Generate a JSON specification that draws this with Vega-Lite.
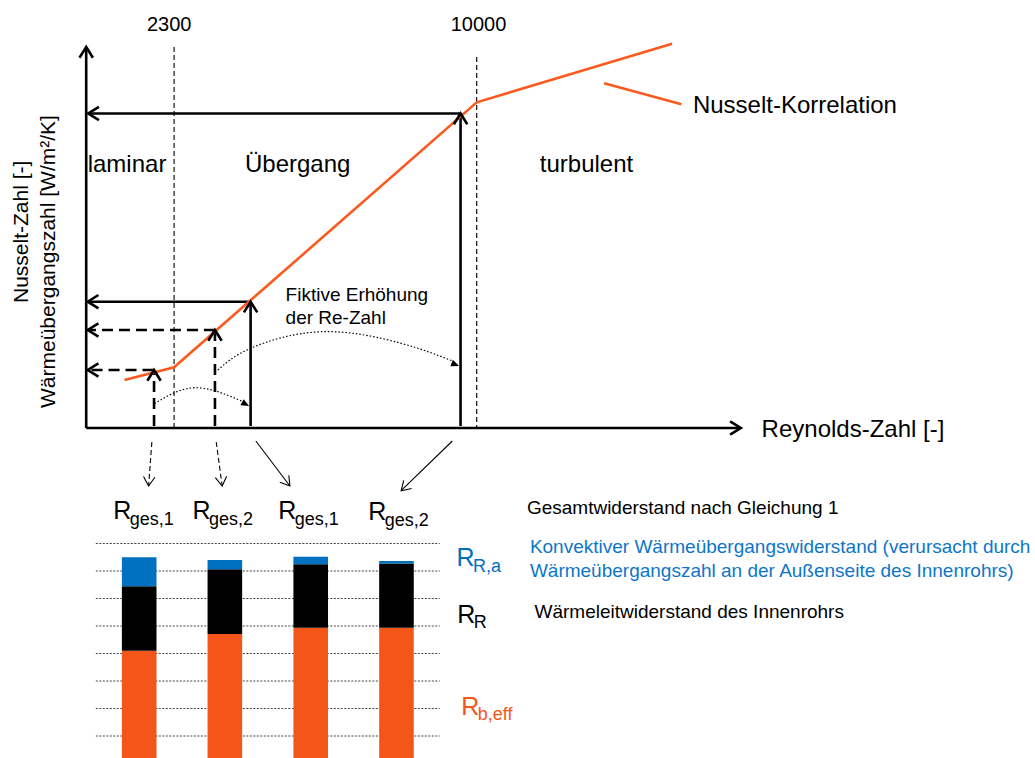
{
  "$schema": "https://vega.github.io/schema/vega-lite/v6.json",
  "width": 1035,
  "height": 758,
  "autosize": {"type": "fit", "contains": "padding"},
  "padding": 0,
  "background": "white",
  "config": {"view": {"stroke": null}, "font": "Liberation Sans"},
  "datasets": {
    "segs": [
      {"k": "axis", "x": 82, "y": 428, "x2": 82, "y2": 49},
      {"k": "axis", "x": 82, "y": 428, "x2": 741, "y2": 428},
      {"k": "solid", "x": 460, "y": 113.5, "x2": 84, "y2": 113.5},
      {"k": "solid", "x": 460, "y": 426, "x2": 460, "y2": 115},
      {"k": "solid", "x": 248, "y": 301.7, "x2": 84, "y2": 301.7},
      {"k": "solid", "x": 248, "y": 426, "x2": 248, "y2": 303},
      {"k": "dash", "x": 212, "y": 330, "x2": 84, "y2": 330},
      {"k": "dash", "x": 212, "y": 426, "x2": 212, "y2": 332},
      {"k": "dash", "x": 150, "y": 370, "x2": 84, "y2": 370},
      {"k": "dash", "x": 150.5, "y": 426, "x2": 150.5, "y2": 372},
      {"k": "guide", "x": 170.7, "y": 47, "x2": 170.7, "y2": 427},
      {"k": "guide", "x": 476.3, "y": 57, "x2": 476.3, "y2": 427},
      {"k": "ptrdash", "x": 148.3, "y": 442, "x2": 145, "y2": 486},
      {"k": "ptrdash", "x": 213.3, "y": 442, "x2": 219.3, "y2": 486},
      {"k": "ptr", "x": 253.3, "y": 441, "x2": 287.7, "y2": 486},
      {"k": "ptr", "x": 451.7, "y": 441, "x2": 400, "y2": 490.7},
      {"k": "leader", "x": 605, "y": 83.3, "x2": 683, "y2": 104.3}
    ],
    "heads": [
      {"k": "thick", "x": 82, "y": 47, "a": 0},
      {"k": "thick", "x": 743, "y": 428, "a": 90},
      {"k": "thick", "x": 84, "y": 113.5, "a": 270},
      {"k": "thick", "x": 460, "y": 113.5, "a": 0},
      {"k": "thick", "x": 83.5, "y": 301.7, "a": 270},
      {"k": "thick", "x": 248, "y": 301.7, "a": 0},
      {"k": "thick", "x": 83.5, "y": 330, "a": 270},
      {"k": "thick", "x": 212, "y": 330, "a": 0},
      {"k": "thick", "x": 83.5, "y": 370, "a": 270},
      {"k": "thick", "x": 150.5, "y": 370, "a": 0},
      {"k": "thin", "x": 145, "y": 486, "a": 183.8},
      {"k": "thin", "x": 219.3, "y": 486, "a": 172.4},
      {"k": "thin", "x": 287.7, "y": 486, "a": 142.1},
      {"k": "thin", "x": 400, "y": 490.7, "a": 226.1},
      {"k": "filled", "x": 246.5, "y": 406, "a": 118},
      {"k": "filled", "x": 458.5, "y": 366, "a": 111.5}
    ],
    "curves": [
      {"c": "c1", "x": 151, "y": 403.5},
      {"c": "c1", "x": 192, "y": 387.7},
      {"c": "c1", "x": 240, "y": 401.5},
      {"c": "c2", "x": 215, "y": 370},
      {"c": "c2", "x": 248, "y": 348.3},
      {"c": "c2", "x": 320, "y": 331.7},
      {"c": "c2", "x": 400, "y": 343.3},
      {"c": "c2", "x": 452, "y": 361}
    ],
    "nusselt": [
      {"x": 120.7, "y": 380},
      {"x": 170.7, "y": 367.3},
      {"x": 476.3, "y": 102.3},
      {"x": 673.6, "y": 43.7}
    ],
    "labels": [
      {"r": "tick", "t": "2300", "x": 143.3, "y": 25},
      {"r": "tick", "t": "10000", "x": 450, "y": 25},
      {"r": "region", "t": "laminar", "x": 83.5, "y": 165},
      {"r": "region", "t": "Übergang", "x": 242.3, "y": 165},
      {"r": "region", "t": "turbulent", "x": 540, "y": 165},
      {"r": "region", "t": "Nusselt-Korrelation", "x": 694.6, "y": 106},
      {"r": "region", "t": "Reynolds-Zahl [-]", "x": 764, "y": 430},
      {"r": "note", "t": "Fiktive Erhöhung", "x": 283.3, "y": 295},
      {"r": "note", "t": "der Re-Zahl", "x": 283.3, "y": 318},
      {"r": "note", "t": "Gesamtwiderstand nach Gleichung 1", "x": 527, "y": 508.3},
      {"r": "blue", "t": "Konvektiver Wärmeübergangswiderstand (verursacht durch", "x": 530, "y": 547.3},
      {"r": "blue", "t": "Wärmeübergangszahl an der Außenseite des Innenrohrs)", "x": 530, "y": 571},
      {"r": "note", "t": "Wärmeleitwiderstand des Innenrohrs", "x": 534.7, "y": 611.7},
      {"r": "ylab", "t": "Nusselt-Zahl [-]", "x": 17, "y": 303},
      {"r": "ylab", "t": "Wärmeübergangszahl [W/m²/K]", "x": 44, "y": 408}
    ],
    "rlabels": [
      {"part": "ges", "main": "R", "sub": "ges,1", "x": 109.3, "y": 519},
      {"part": "ges", "main": "R", "sub": "ges,2", "x": 189.3, "y": 519},
      {"part": "ges", "main": "R", "sub": "ges,1", "x": 276, "y": 519},
      {"part": "ges", "main": "R", "sub": "ges,2", "x": 366.7, "y": 520},
      {"part": "RRa", "main": "R", "sub": "R,a", "x": 456, "y": 566},
      {"part": "RR", "main": "R", "sub": "R", "x": 456.7, "y": 622.5},
      {"part": "Rb", "main": "R", "sub": "b,eff", "x": 460.7, "y": 714.5}
    ],
    "bars": [
      {"bar": 1, "xc": 135.5, "part": "Rb", "o": 1, "v": 4.1},
      {"bar": 1, "xc": 135.5, "part": "RR", "o": 2, "v": 2.35},
      {"bar": 1, "xc": 135.5, "part": "RRa", "o": 3, "v": 1.05},
      {"bar": 2, "xc": 222, "part": "Rb", "o": 1, "v": 4.71},
      {"bar": 2, "xc": 222, "part": "RR", "o": 2, "v": 2.35},
      {"bar": 2, "xc": 222, "part": "RRa", "o": 3, "v": 0.34},
      {"bar": 3, "xc": 308.7, "part": "Rb", "o": 1, "v": 4.94},
      {"bar": 3, "xc": 308.7, "part": "RR", "o": 2, "v": 2.31},
      {"bar": 3, "xc": 308.7, "part": "RRa", "o": 3, "v": 0.27},
      {"bar": 4, "xc": 395.3, "part": "Rb", "o": 1, "v": 4.94},
      {"bar": 4, "xc": 395.3, "part": "RR", "o": 2, "v": 2.33},
      {"bar": 4, "xc": 395.3, "part": "RRa", "o": 3, "v": 0.09}
    ],
    "grid": [{"g": 1}, {"g": 2}, {"g": 3}, {"g": 4}, {"g": 5}, {"g": 6}, {"g": 7}, {"g": 8}]
  },
  "resolve": {"scale": {"y": "independent"}},
  "layer": [
    {
      "encoding": {
        "x": {"field": "x", "type": "quantitative", "scale": {"domain": [0, 1035], "nice": false, "zero": false}, "axis": null},
        "y": {"field": "y", "type": "quantitative", "scale": {"domain": [0, 758], "nice": false, "zero": false, "reverse": true}, "axis": null}
      },
      "layer": [
        {
          "data": {"name": "segs"},
          "transform": [{"filter": "datum.k === 'guide'"}],
          "mark": {"type": "rule", "color": "#000000", "strokeWidth": 1.1, "strokeDash": [5, 3]},
          "encoding": {"x2": {"field": "x2"}, "y2": {"field": "y2"}}
        },
        {
          "data": {"name": "curves"},
          "mark": {"type": "line", "interpolate": "natural", "color": "#000000", "strokeWidth": 1.2, "strokeDash": [1.5, 2]},
          "encoding": {"detail": {"field": "c"}}
        },
        {
          "data": {"name": "segs"},
          "transform": [{"filter": "datum.k === 'axis' || datum.k === 'solid'"}],
          "mark": {"type": "rule", "color": "#000000", "strokeWidth": 2.6},
          "encoding": {"x2": {"field": "x2"}, "y2": {"field": "y2"}}
        },
        {
          "data": {"name": "segs"},
          "transform": [{"filter": "datum.k === 'dash'"}],
          "mark": {"type": "rule", "color": "#000000", "strokeWidth": 2.6, "strokeDash": [11, 6]},
          "encoding": {"x2": {"field": "x2"}, "y2": {"field": "y2"}}
        },
        {
          "data": {"name": "segs"},
          "transform": [{"filter": "datum.k === 'ptr'"}],
          "mark": {"type": "rule", "color": "#000000", "strokeWidth": 1.1},
          "encoding": {"x2": {"field": "x2"}, "y2": {"field": "y2"}}
        },
        {
          "data": {"name": "segs"},
          "transform": [{"filter": "datum.k === 'ptrdash'"}],
          "mark": {"type": "rule", "color": "#000000", "strokeWidth": 1.1, "strokeDash": [5, 3]},
          "encoding": {"x2": {"field": "x2"}, "y2": {"field": "y2"}}
        },
        {
          "data": {"name": "nusselt"},
          "mark": {"type": "line", "color": "#FB5A1E", "strokeWidth": 2.6},
          "encoding": {}
        },
        {
          "data": {"name": "segs"},
          "transform": [{"filter": "datum.k === 'leader'"}],
          "mark": {"type": "rule", "color": "#FB5A1E", "strokeWidth": 2.6},
          "encoding": {"x2": {"field": "x2"}, "y2": {"field": "y2"}}
        },
        {
          "data": {"name": "heads"},
          "transform": [{"filter": "datum.k === 'thick'"}],
          "mark": {"type": "point", "shape": "M-1,1.6L0,0L1,1.6", "filled": false, "color": "#000000", "strokeWidth": 2.6, "size": 180, "opacity": 1},
          "encoding": {"angle": {"field": "a", "type": "quantitative", "scale": null}}
        },
        {
          "data": {"name": "heads"},
          "transform": [{"filter": "datum.k === 'thin'"}],
          "mark": {"type": "point", "shape": "M-1,1.6L0,0L1,1.6", "filled": false, "color": "#000000", "strokeWidth": 1.1, "size": 130, "opacity": 1},
          "encoding": {"angle": {"field": "a", "type": "quantitative", "scale": null}}
        },
        {
          "data": {"name": "heads"},
          "transform": [{"filter": "datum.k === 'filled'"}],
          "mark": {"type": "point", "shape": "M0,0L-0.7,1.6L0.7,1.6Z", "filled": true, "color": "#000000", "size": 100, "opacity": 1},
          "encoding": {"angle": {"field": "a", "type": "quantitative", "scale": null}}
        },
        {
          "data": {"name": "labels"},
          "transform": [{"filter": "datum.r === 'tick'"}],
          "mark": {"type": "text", "align": "left", "baseline": "middle", "fontSize": 20, "color": "#000000"},
          "encoding": {"text": {"field": "t"}}
        },
        {
          "data": {"name": "labels"},
          "transform": [{"filter": "datum.r === 'region'"}],
          "mark": {"type": "text", "align": "left", "baseline": "middle", "fontSize": 24, "color": "#000000"},
          "encoding": {"text": {"field": "t"}}
        },
        {
          "data": {"name": "labels"},
          "transform": [{"filter": "datum.r === 'note'"}],
          "mark": {"type": "text", "align": "left", "baseline": "middle", "fontSize": 19, "color": "#000000"},
          "encoding": {"text": {"field": "t"}}
        },
        {
          "data": {"name": "labels"},
          "transform": [{"filter": "datum.r === 'blue'"}],
          "mark": {"type": "text", "align": "left", "baseline": "middle", "fontSize": 19, "color": "#0E76C8"},
          "encoding": {"text": {"field": "t"}}
        },
        {
          "data": {"name": "labels"},
          "transform": [{"filter": "datum.r === 'ylab'"}],
          "mark": {"type": "text", "align": "left", "baseline": "middle", "fontSize": 21, "angle": 270, "color": "#000000"},
          "encoding": {"text": {"field": "t"}}
        },
        {
          "data": {"name": "rlabels"},
          "mark": {"type": "text", "align": "left", "baseline": "alphabetic", "fontSize": 25},
          "encoding": {
            "text": {"field": "main"},
            "color": {"field": "part", "type": "nominal", "scale": {"domain": ["Rb", "RR", "RRa", "ges"], "range": ["#F4561A", "#000000", "#0070C0", "#000000"]}, "legend": null}
          }
        },
        {
          "data": {"name": "rlabels"},
          "mark": {"type": "text", "align": "left", "baseline": "alphabetic", "fontSize": 18, "dx": 16.5, "dy": 5.5},
          "encoding": {
            "text": {"field": "sub"},
            "color": {"field": "part", "type": "nominal", "scale": {"domain": ["Rb", "RR", "RRa", "ges"], "range": ["#F4561A", "#000000", "#0070C0", "#000000"]}, "legend": null}
          }
        }
      ]
    },
    {
      "layer": [
        {
          "data": {"name": "grid"},
          "mark": {"type": "rule", "color": "#444444", "strokeWidth": 1, "strokeDash": [2, 1.5]},
          "encoding": {
            "x": {"datum": 91.7, "type": "quantitative", "scale": {"domain": [0, 1035], "nice": false, "zero": false}, "axis": null},
            "x2": {"datum": 439},
            "y": {"field": "g", "type": "quantitative", "scale": {"domain": [0.2, 27.764], "nice": false, "zero": false}, "axis": null}
          }
        },
        {
          "data": {"name": "bars"},
          "mark": {"type": "bar", "width": 34.6, "clip": true},
          "encoding": {
            "x": {"field": "xc", "type": "quantitative", "scale": {"domain": [0, 1035], "nice": false, "zero": false}, "axis": null},
            "y": {"field": "v", "type": "quantitative", "stack": "zero", "scale": {"domain": [0.2, 27.764], "nice": false, "zero": false}, "axis": null},
            "color": {"field": "part", "type": "nominal", "scale": {"domain": ["Rb", "RR", "RRa", "ges"], "range": ["#F4561A", "#000000", "#0070C0", "#000000"]}, "legend": null},
            "order": {"field": "o", "type": "quantitative"},
            "detail": {"field": "bar"}
          }
        }
      ]
    }
  ]
}
